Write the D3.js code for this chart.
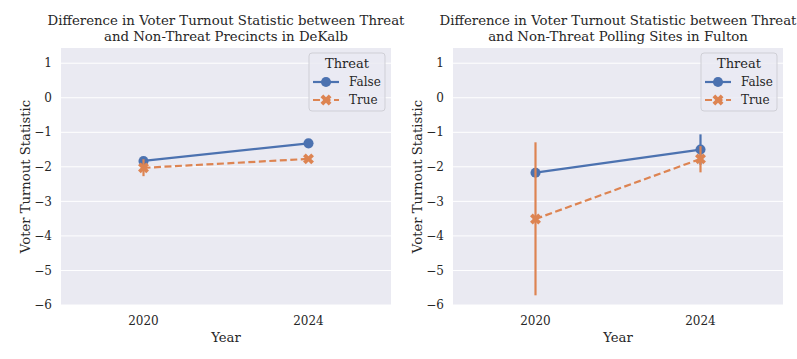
<!DOCTYPE html>
<html><head><meta charset="utf-8">
<script src="https://cdn.jsdelivr.net/npm/d3@7"></script>
<style>body{margin:0;background:#fff}svg{display:block}text{font-family:"DejaVu Serif",serif;fill:#262626}</style>
</head><body><svg id="c" width="797" height="359"></svg>
<script>
const years = ["2020", "2024"];
const threatLevels = ["False", "True"];
const yTicks = [1, 0, -1, -2, -3, -4, -5, -6];
const panelTitles = [
  ["Difference in Voter Turnout Statistic between Threat", "and Non-Threat Precincts in DeKalb"],
  ["Difference in Voter Turnout Statistic between Threat", "and Non-Threat Polling Sites in Fulton"]
];
// DeKalb
const dekalbFalseMean = [-1.83, -1.32];
const dekalbFalseLow  = [-1.83, -1.32];
const dekalbFalseHigh = [-1.83, -1.32];
const dekalbTrueMean  = [-2.03, -1.77];
const dekalbTrueLow   = [-2.27, -1.83];
const dekalbTrueHigh  = [-1.78, -1.72];
// Fulton
const fultonFalseMean = [-2.17, -1.50];
const fultonFalseLow  = [-2.17, -1.94];
const fultonFalseHigh = [-2.17, -1.06];
const fultonTrueMean  = [-3.51, -1.77];
const fultonTrueLow   = [-5.72, -2.16];
const fultonTrueHigh  = [-1.29, -1.40];

const colors = {False: "#4c72b0", True: "#dd8452"};

const panels = [
  {left: 61, title: panelTitles[0], series: [
    {key: "False", mean: dekalbFalseMean, lo: dekalbFalseLow, hi: dekalbFalseHigh},
    {key: "True", mean: dekalbTrueMean, lo: dekalbTrueLow, hi: dekalbTrueHigh}]},
  {left: 453, title: panelTitles[1], series: [
    {key: "False", mean: fultonFalseMean, lo: fultonFalseLow, hi: fultonFalseHigh},
    {key: "True", mean: fultonTrueMean, lo: fultonTrueLow, hi: fultonTrueHigh}]}
];

const svg = d3.select("#c");
const W = 330, plotTop = 48, plotBottom = 305;
const y = d3.scaleLinear().domain([-6, 1.44]).range([plotBottom, plotTop]);

panels.forEach(p => {
  const g = svg.append("g").attr("transform", `translate(${p.left},0)`);
  const x = d3.scalePoint().domain(years).range([0, W]).padding(0.5);
  g.append("rect").attr("x", 0).attr("y", plotTop).attr("width", W).attr("height", plotBottom - plotTop).attr("fill", "#eaeaf2");
  g.selectAll("line.grid").data(yTicks).enter().append("line")
    .attr("x1", 0).attr("x2", W).attr("y1", d => y(d)).attr("y2", d => y(d))
    .attr("stroke", "#fff").attr("stroke-width", 1);
  g.selectAll("text.yt").data(yTicks).enter().append("text")
    .attr("x", -9).attr("y", d => y(d)).attr("dy", "0.35em").attr("text-anchor", "end")
    .attr("font-size", 12).text(d => d < 0 ? "\u2212" + Math.abs(d) : d);
  g.selectAll("text.xt").data(years).enter().append("text")
    .attr("x", d => x(d)).attr("y", 325).attr("text-anchor", "middle").attr("font-size", 12).text(d => d);
  g.append("text").attr("x", W / 2).attr("y", 342).attr("text-anchor", "middle").attr("font-size", 13.2).text("Year");
  g.append("text").attr("transform", `translate(-31,${(plotTop + plotBottom) / 2}) rotate(-90)`)
    .attr("text-anchor", "middle").attr("font-size", 13.2).text("Voter Turnout Statistic");
  p.title.forEach((t, i) => g.append("text").attr("x", W / 2).attr("y", 25.3 + i * 15.3)
    .attr("text-anchor", "middle").attr("font-size", 13.3).text(t));

  p.series.forEach(s => {
    const c = colors[s.key];
    const pts = years.map((yr, i) => ({yr, m: s.mean[i], lo: s.lo[i], hi: s.hi[i]}));
    g.selectAll(null).data(pts).enter().append("line")
      .attr("x1", d => x(d.yr)).attr("x2", d => x(d.yr)).attr("y1", d => y(d.lo)).attr("y2", d => y(d.hi))
      .attr("stroke", c).attr("stroke-width", 2.2);
    g.append("path").datum(pts)
      .attr("d", d3.line().x(d => x(d.yr)).y(d => y(d.m)))
      .attr("fill", "none").attr("stroke", c).attr("stroke-width", 2.2)
      .attr("stroke-dasharray", s.key === "True" ? "7,3.5" : null);
    const sym = s.key === "True" ? d3.symbol().type(d3.symbolCross).size(75) : d3.symbol().type(d3.symbolCircle).size(80);
    g.selectAll(null).data(pts).enter().append("path")
      .attr("d", sym)
      .attr("transform", d => `translate(${x(d.yr)},${y(d.m)})` + (s.key === "True" ? " rotate(45)" : ""))
      .attr("fill", c);
  });

  // legend
  const lg = g.append("g").attr("transform", `translate(${W - 82},5)`);
  lg.append("rect").attr("x", 0).attr("y", plotTop).attr("width", 76).attr("height", 58).attr("rx", 3)
    .attr("fill", "#eaeaf2").attr("fill-opacity", 0.8).attr("stroke", "#cfcfd6").attr("stroke-width", 1);
  lg.append("text").attr("x", 38).attr("y", plotTop + 10).attr("dy", "0.35em").attr("text-anchor", "middle").attr("font-size", 13).text("Threat");
  threatLevels.forEach((k, i) => {
    const yy = plotTop + 29 + i * 18;
    lg.append("line").attr("x1", 4).attr("x2", 30).attr("y1", yy).attr("y2", yy)
      .attr("stroke", colors[k]).attr("stroke-width", 2.2).attr("stroke-dasharray", k === "True" ? "7,3.5" : null);
    const sym = k === "True" ? d3.symbol().type(d3.symbolCross).size(75) : d3.symbol().type(d3.symbolCircle).size(80);
    lg.append("path").attr("d", sym).attr("transform", `translate(17,${yy})` + (k === "True" ? " rotate(45)" : "")).attr("fill", colors[k]);
    lg.append("text").attr("x", 40).attr("y", yy).attr("dy", "0.35em").attr("font-size", 12).text(k);
  });
});
</script></body></html>
